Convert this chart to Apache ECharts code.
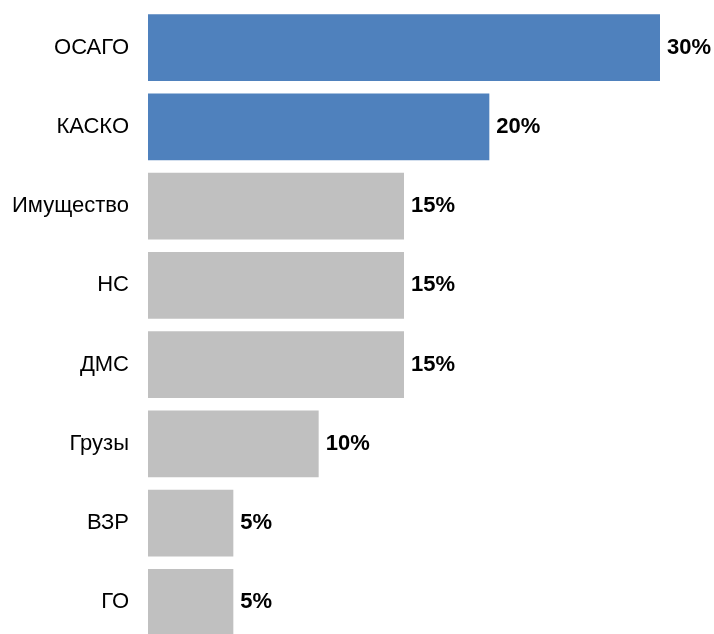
<!DOCTYPE html>
<html>
<head>
<meta charset="utf-8">
<script src="https://cdn.jsdelivr.net/npm/echarts@6/dist/echarts.min.js"></script>
<style>
html,body{margin:0;padding:0;background:#fff;overflow:hidden;}
#chart{width:714px;height:642px;}
</style>
</head>
<body>
<div id="chart"></div>
<script>
const categories = ['ОСАГО', 'КАСКО', 'Имущество', 'НС', 'ДМС', 'Грузы', 'ВЗР', 'ГО'];
const values = [30, 20, 15, 15, 15, 10, 5, 5];
const highlighted = ['ОСАГО', 'КАСКО'];

const chart = echarts.init(document.getElementById('chart'), null, {renderer: 'canvas'});
chart.setOption({
  animation: false,
  backgroundColor: '#ffffff',
  grid: {left: 148, top: 8, right: 54, bottom: 0, containLabel: false},
  xAxis: {
    type: 'value', min: 0, max: 30, show: false
  },
  yAxis: {
    type: 'category', inverse: true, data: categories,
    axisLine: {show: false}, axisTick: {show: false},
    axisLabel: {
      margin: 19, color: '#000', fontSize: 22,
      fontFamily: '"Liberation Sans", Arial, sans-serif'
    }
  },
  series: [{
    type: 'bar',
    barCategoryGap: '15.5%',
    data: values.map((v, i) => ({
      value: v,
      itemStyle: {color: highlighted.includes(categories[i]) ? '#4F81BD' : '#C0C0C0'}
    })),
    label: {
      show: true, position: 'right', distance: 7,
      formatter: p => p.value + '%',
      color: '#000', fontWeight: 'bold', fontSize: 22,
      fontFamily: '"Liberation Sans", Arial, sans-serif'
    }
  }]
});
</script>
</body>
</html>
